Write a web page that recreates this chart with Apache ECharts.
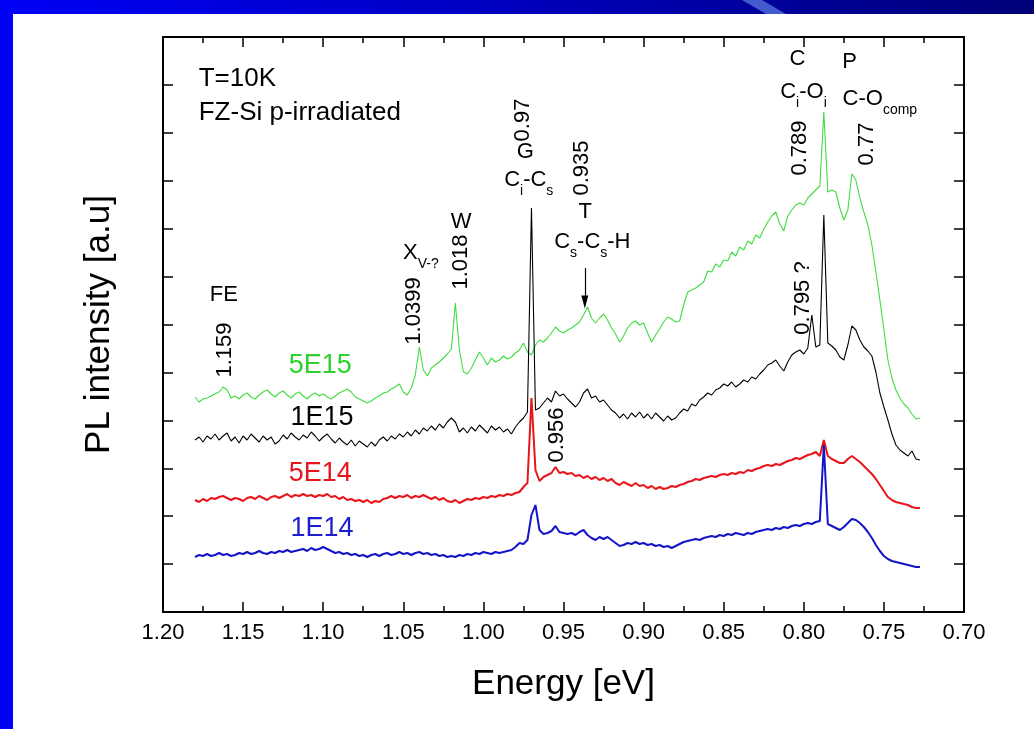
<!DOCTYPE html>
<html><head><meta charset="utf-8">
<script src="https://cdn.jsdelivr.net/npm/echarts@6/dist/echarts.min.js"></script>
<style>html,body{margin:0;padding:0;background:#fff}#c{width:1034px;height:729px}</style>
</head><body><div id="c"></div>
<script>
// Energy sampling grid (eV): first sample and spacing
const E_START = 1.18, E_STEP = 0.0025;
// X axis ticks
const X_MIN = 0.70, X_MAX = 1.20, X_INTERVAL = 0.05;
// Y axis (arbitrary units, 12 tick intervals, no labels)
const Y_MIN = 0, Y_MAX = 575, Y_INTERVALS = 12;

// PL intensity [a.u.], offset spectra
const green = [215,210,213,214,216,218,220,225,222,214, 216,213,217,219,215,213,217,220,222,218,
 215,219,221,217,214,218,220,216,213,217, 219,216,218,215,213,216,219,221,223,220,
 215,213,211,209,211,214,216,219,220,223, 225,228,220,217,224,237,265,242,236,244,
 247,250,254,258,263,309,262,240,238,244, 252,260,254,247,254,250,252,256,253,255,
 259,262,269,260,257,267,272,270,274,279, 285,281,279,282,284,287,290,297,305,294,
 289,294,298,292,284,278,270,276,284,289, 291,287,289,279,270,277,283,290,295,293,
 290,291,307,320,322,324,327,330,341,340, 348,345,352,351,360,356,365,362,371,368,
 377,374,383,390,396,400,388,381,396,402, 407,409,407,414,418,422,426,500,420,422,
 420,404,392,402,438,432,414,400,387,367, 340,312,282,252,234,222,214,208,204,198,
 193,194];
const black = [172,175,170,176,173,178,172,176,179,171, 175,169,176,172,178,174,170,176,172,175,
 168,171,177,173,179,175,172,177,174,180, 176,171,175,178,173,169,174,170,167,172,
 166,171,168,165,170,166,172,175,171,176, 173,178,175,180,176,182,178,184,181,186,
 182,188,184,190,194,190,180,184,179,185, 181,187,183,179,186,182,185,180,183,178,
 185,190,194,200,404,202,204,209,214,210, 221,216,218,213,209,205,210,219,223,214,
 216,210,212,207,202,199,194,198,193,199, 195,200,194,198,193,199,195,191,196,192,
 194,199,203,201,208,206,212,215,219,217, 222,224,228,226,230,225,228,232,230,235,
 233,238,242,247,249,252,246,241,250,257, 260,262,258,264,297,265,267,397,269,266,
 262,255,252,267,286,282,272,265,261,256, 240,219,205,192,178,167,162,159,156,161,
 153,152];
const red = [112,110,113,111,114,113,115,116,114,112, 114,113,111,114,115,113,116,114,112,115,
 116,114,116,118,115,117,116,118,116,117, 115,117,116,118,115,116,113,115,112,113,
 111,112,110,112,109,111,110,113,114,116, 114,116,115,117,114,116,115,117,115,113,
 115,112,114,111,110,112,109,111,113,112, 114,113,115,114,116,115,117,116,118,117,
 119,120,125,129,214,142,131,135,137,139, 145,139,140,138,139,136,137,134,136,133,
 135,132,134,131,133,129,127,130,128,126, 129,126,127,124,126,123,125,123,124,126,
 125,127,128,130,131,133,132,134,135,136, 135,137,138,137,139,138,140,139,142,141,
 143,144,146,147,146,148,147,149,151,152, 154,153,155,157,158,160,156,172,156,153,
 151,149,149,153,156,153,150,146,142,138, 133,127,121,115,112,110,109,108,107,105,
 104,104];
const blue = [55,57,56,58,56,57,59,57,58,56, 57,59,58,60,58,59,61,59,58,60,
 59,61,60,62,60,61,62,63,61,64, 62,63,65,63,61,59,60,58,59,57,
 58,56,57,55,57,58,56,58,59,57, 58,60,58,59,57,59,60,58,59,57,
 58,56,57,55,56,55,57,56,58,57, 59,58,60,59,58,60,59,60,61,62,
 65,69,68,72,97,107,82,78,79,81, 86,80,79,78,79,77,80,82,77,74,
 72,75,73,75,72,69,66,67,69,68, 70,68,69,67,68,66,67,65,66,64,
 66,68,70,71,72,73,72,74,75,76, 75,77,76,78,77,79,78,77,79,78,
 80,81,82,83,82,84,83,85,84,86, 87,86,88,89,88,90,91,167,88,86,
 84,82,85,89,93,92,89,85,80,74, 67,61,56,53,51,50,49,48,47,46,
 45,45];

const seriesNames = ['5E15','1E15','5E14','1E14'];
const seriesColors = ['#40dc40','#000000','#e8151b','#1414c8'];
const labelColors = ['#2fd02f','#000000','#e8151b','#1c1cd0'];
// series name labels: [energy, intensity]
const nameAnchors = [[1.1019,246],[1.1007,194],[1.1019,138],[1.1007,83]];

// peak / text annotations: [text, energy, intensity, rotate, fontSize, align]
const notes = [
 ['T=10K', 1.1777, 533, 0, 26, 'left'],
 ['FZ-Si p-irradiated', 1.1777, 499, 0, 26, 'left'],
 ['FE', 1.162, 317, 0, 22, 'center'],
 ['1.159', 1.1614, 262, 90, 22, 'center'],
 ['{m|X}{s|V-?}', 1.0502, 359, 0, 22, 'left'],
 ['1.0399', 1.0433, 301, 90, 22, 'center'],
 ['W', 1.0139, 390, 0, 22, 'center'],
 ['1.018', 1.0139, 350, 90, 22, 'center'],
 ['0.97', 0.9752, 492, 90, 22, 'center'],
 ['G', 0.9739, 460, 0, 22, 'center'],
 ['{m|C}{s|i}{m|-C}{s|s}', 0.9717, 432, 0, 22, 'center'],
 ['0.935', 0.9383, 444, 90, 22, 'center'],
 ['T', 0.9364, 400, 0, 22, 'center'],
 ['{m|C}{s|s}{m|-C}{s|s}{m|-H}', 0.932, 370, 0, 22, 'center'],
 ['C', 0.8039, 553, 0, 22, 'center'],
 ['{m|C}{s|i}{m|-O}{s|i}', 0.8002, 520, 0, 22, 'center'],
 ['0.789', 0.8021, 464, 90, 22, 'center'],
 ['P', 0.7714, 550, 0, 22, 'center'],
 ['{m|C-O}{s|comp}', 0.7758, 513, 0, 22, 'left'],
 ['0.77', 0.7608, 468, 90, 22, 'center'],
 ['0.795 ?', 0.8008, 314, 90, 22, 'center'],
 ['0.956', 0.9539, 177, 90, 22, 'center']
];
// arrow pointing to the T line: [energy, fromIntensity, toIntensity]
const arrow = [0.9367, 344, 310];

const FONT = '"Liberation Sans", Arial, Helvetica, sans-serif';
const TEXT = '#000000';
const energy = green.map((_, i) => +(E_START - i * E_STEP).toFixed(4));
const spectra = [green, black, red, blue];

const richStyles = {
  m: {fontSize: 22, lineHeight: 26, fontFamily: FONT, color: TEXT},
  s: {fontSize: 14, lineHeight: 16, fontFamily: FONT, color: TEXT, padding: [22, 0, 0, 0]}
};

const lineSeries = spectra.map((vals, k) => ({
  type: 'line', name: seriesNames[k], showSymbol: false, symbol: 'none',
  data: vals.map((v, i) => [energy[i], v]),
  lineStyle: {color: seriesColors[k], width: k >= 2 ? 2 : 1.1, opacity: 1},
  z: 2 + k, animation: false
}));

const noteData = notes.map(n => ({
  value: [n[1], n[2]],
  label: {show: true, position: 'inside', formatter: n[0], rotate: n[3], fontSize: n[4],
    align: n[5], verticalAlign: 'middle', color: TEXT, opacity: 1, fontFamily: FONT, rich: richStyles}
}));
nameAnchors.forEach((a, k) => noteData.push({
  value: a,
  label: {show: true, position: 'inside', formatter: seriesNames[k], fontSize: 27, opacity: 1,
    color: labelColors[k], fontFamily: FONT, align: 'center', verticalAlign: 'middle'}
}));

const annSeries = {
  type: 'scatter', symbol: 'circle', symbolSize: 1, clip: false, silent: true,
  itemStyle: {color: 'rgba(0,0,0,0)', opacity: 1}, data: noteData, z: 10, animation: false,
  emphasis: {disabled: true},
  markLine: {
    silent: true, animation: false, symbol: ['none', 'triangle'], symbolSize: [7, 13],
    lineStyle: {color: '#000', width: 1.2, type: 'solid', opacity: 1},
    itemStyle: {color: '#000', opacity: 1}, label: {show: false},
    emphasis: {disabled: true},
    data: [[{coord: [arrow[0], arrow[1]]}, {coord: [arrow[0], arrow[2]]}]]
  }
};

function xAxisDef(pos, showLabel) {
  return {
    type: 'value', inverse: true, min: X_MIN, max: X_MAX, interval: X_INTERVAL, position: pos,
    axisLine: {show: true, onZero: false, lineStyle: {color: '#000', width: 2}},
    axisTick: {show: true, inside: true, length: 10, lineStyle: {color: '#000', width: 1.5}},
    minorTick: {show: true, splitNumber: 2, length: 6, lineStyle: {color: '#000', width: 1.5}},
    splitLine: {show: false}, minorSplitLine: {show: false},
    axisLabel: {show: showLabel, margin: 10, fontSize: 22, color: TEXT, fontFamily: FONT,
      formatter: v => v.toFixed(2), showMinLabel: true, showMaxLabel: true},
    name: showLabel ? 'Energy [eV]' : '', nameLocation: 'middle', nameGap: 55,
    nameTextStyle: {fontSize: 35, color: TEXT, fontFamily: FONT}
  };
}
function yAxisDef(pos, showName) {
  return {
    type: 'value', min: Y_MIN, max: Y_MAX, interval: (Y_MAX - Y_MIN) / Y_INTERVALS, position: pos,
    axisLine: {show: true, onZero: false, lineStyle: {color: '#000', width: 2}},
    axisTick: {show: true, inside: true, length: 10, lineStyle: {color: '#000', width: 1.5}},
    axisLabel: {show: false}, splitLine: {show: false},
    name: showName ? 'PL intensity [a.u]' : '', nameLocation: 'middle', nameGap: 46, nameRotate: 90,
    nameTextStyle: {fontSize: 35, color: TEXT, fontFamily: FONT}
  };
}

const chart = echarts.init(document.getElementById('c'), null, {renderer: 'canvas'});
chart.setOption({
  backgroundColor: '#ffffff',
  animation: false,
  textStyle: {fontFamily: FONT},
  grid: {left: 163, right: 70, top: 37, bottom: 117, containLabel: false},
  xAxis: [xAxisDef('bottom', true), xAxisDef('top', false)],
  yAxis: [yAxisDef('left', true), yAxisDef('right', false)],
  graphic: [
    {type: 'rect', left: 0, top: 0, shape: {width: 13, height: 729}, style: {fill: '#0000f2'}, z: 100},
    {type: 'rect', left: 0, top: 0, shape: {width: 1034, height: 14}, z: 100,
      style: {fill: new echarts.graphic.LinearGradient(0, 0, 1, 0, [
        {offset: 0, color: '#0000f6'}, {offset: 0.45, color: '#0000c4'}, {offset: 1, color: '#000078'}])}},
    {type: 'polygon', shape: {points: [[742, 0], [762, 0], [786, 14], [766, 14]]},
      style: {fill: 'rgba(90,120,220,0.75)'}, z: 101}
  ],
  series: [...lineSeries, annSeries]
});
</script></body></html>
